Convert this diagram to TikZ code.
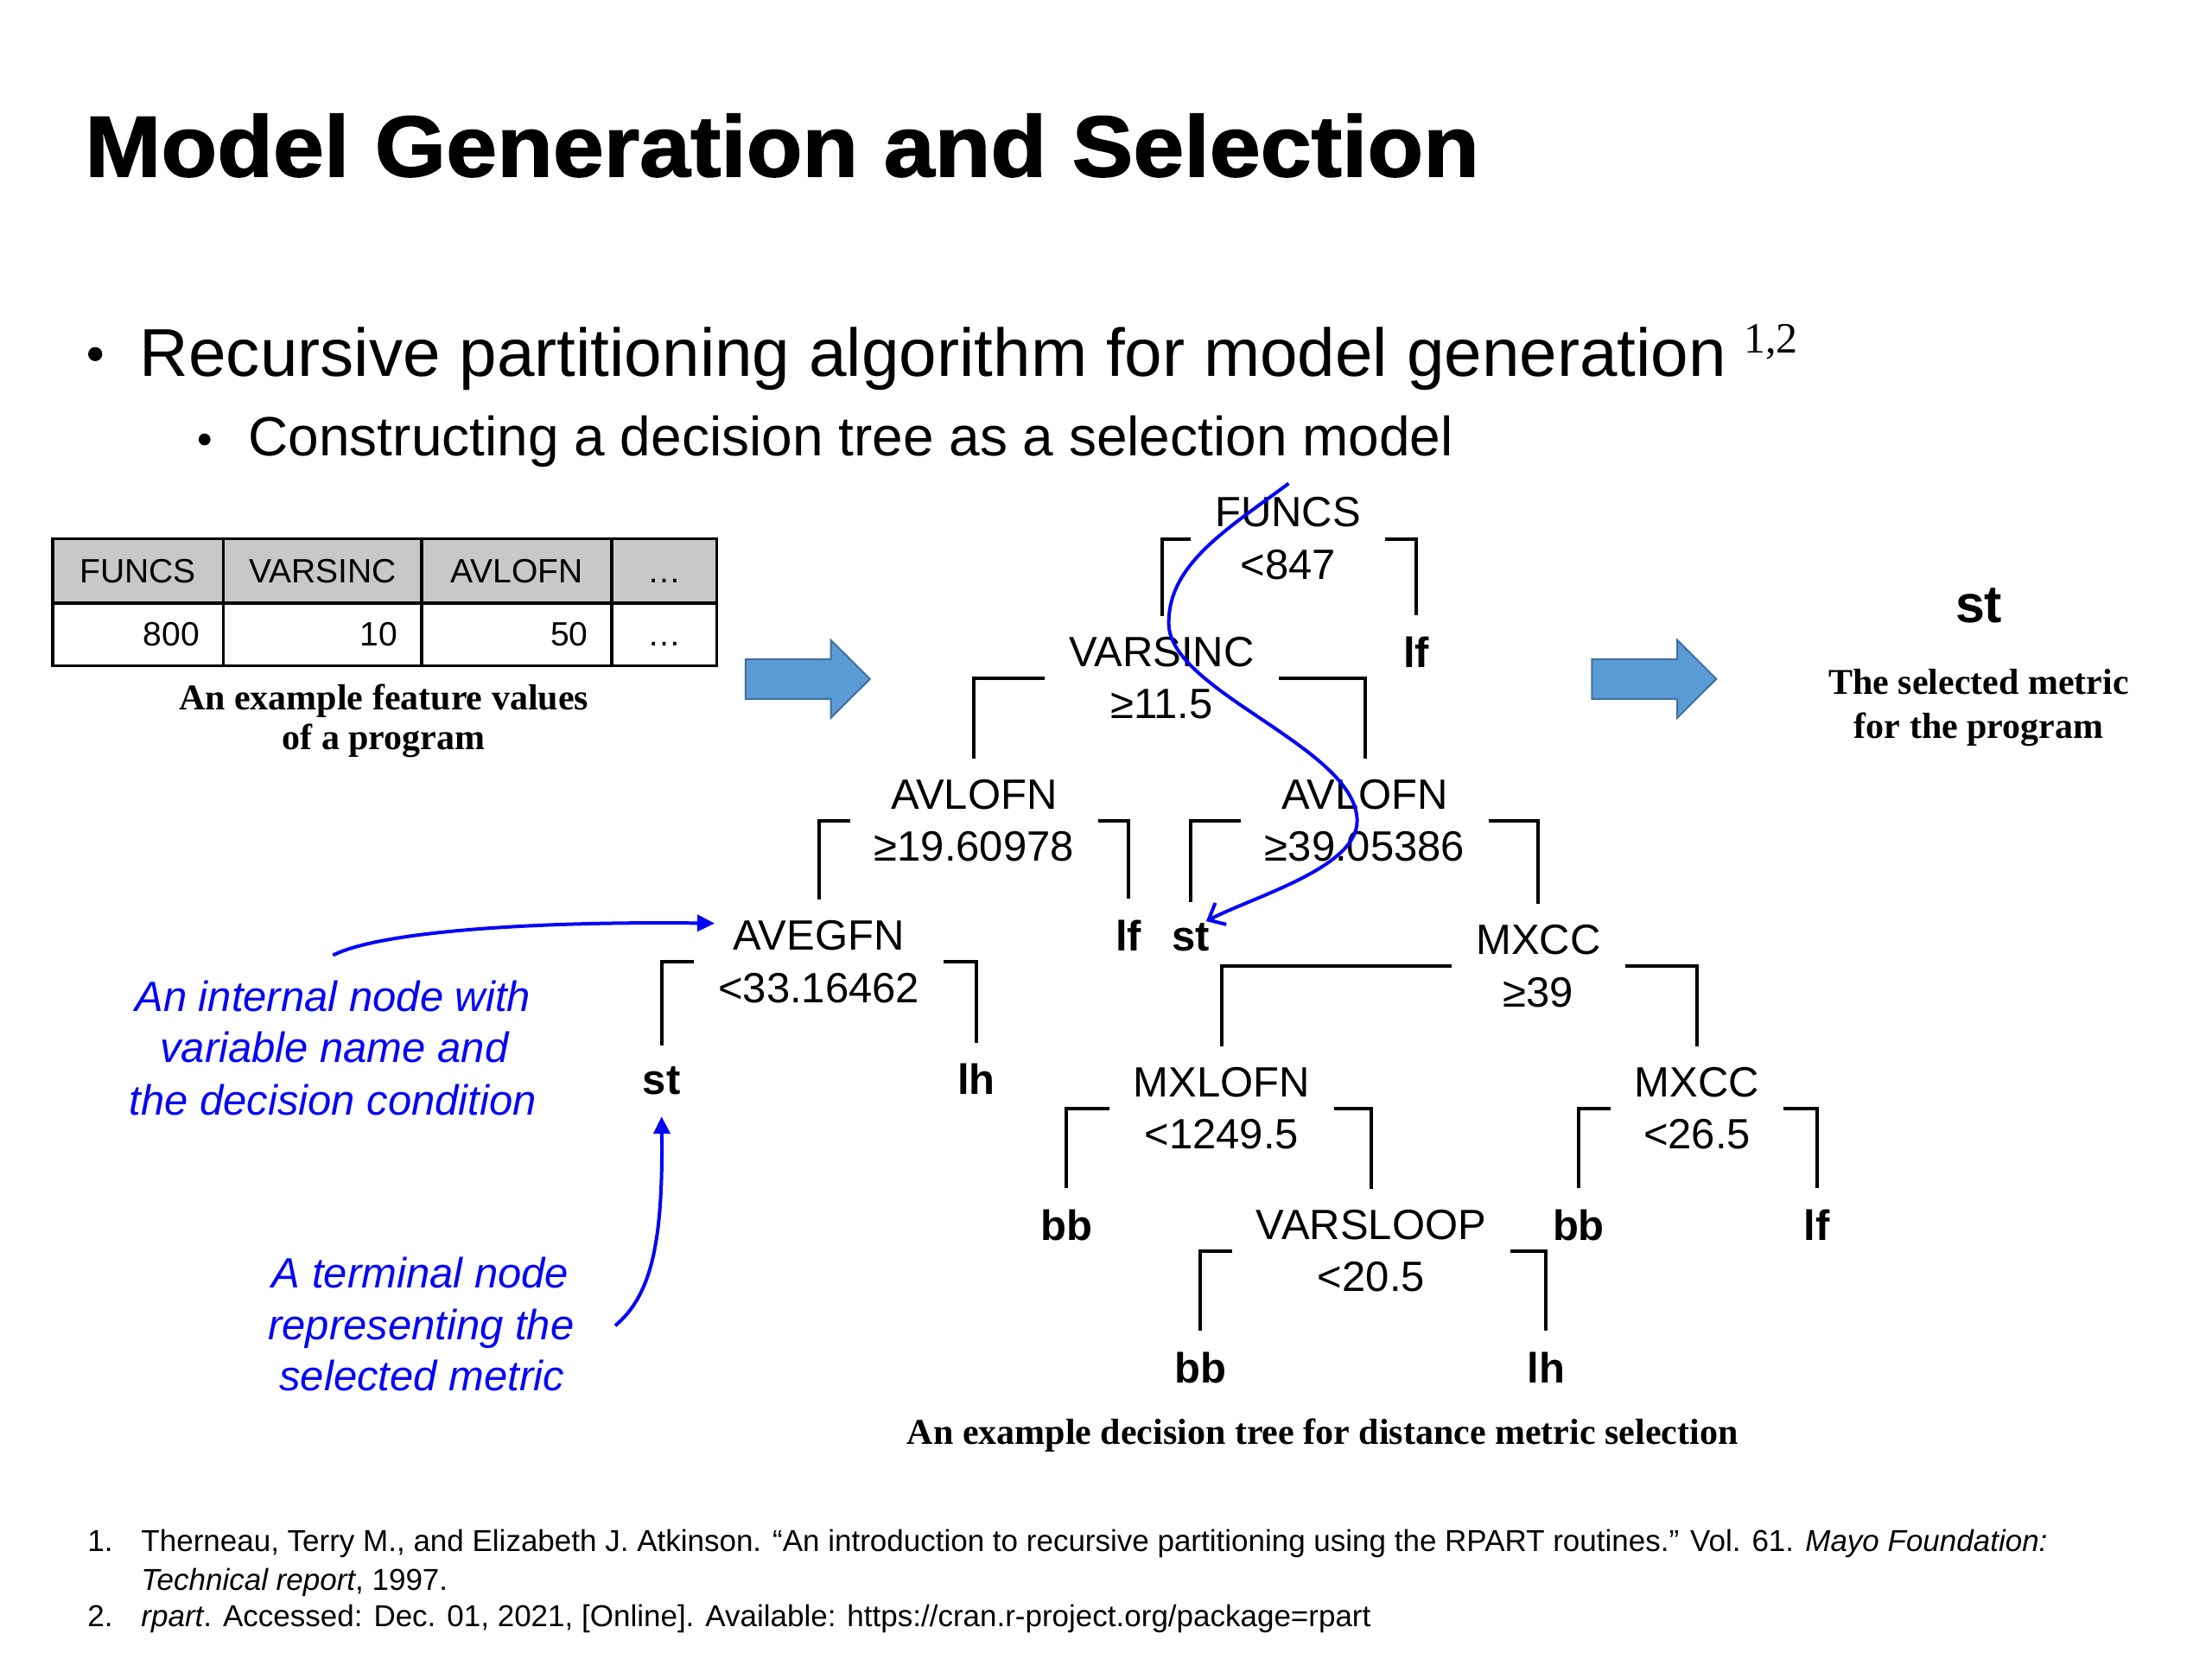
\documentclass[tikz,border=0pt]{standalone}
\usepackage{fontspec}
\setmainfont{Liberation Sans}
\newfontfamily\capserif{Liberation Serif}
\newfontfamily\titlefont[FakeStretch=1.06,FakeBold=1.5]{Liberation Sans}
\usetikzlibrary{arrows.meta,calc}
\definecolor{annblue}{RGB}{5,5,245}
\definecolor{arrfill}{RGB}{91,155,213}
\definecolor{arrline}{RGB}{65,113,156}
\definecolor{hdrgray}{RGB}{200,200,200}
\newcommand{\fsz}[2]{\fontsize{#1}{#2}\selectfont}
\begin{document}
\begin{tikzpicture}[x=1.6327pt,y=-1.6327pt,
  txt/.style={inner sep=0pt},
  titletext/.style={txt,anchor=base west,font=\titlefont\bfseries\fsz{100}{120}},
  bul1/.style={txt,anchor=base west,font=\fsz{78.3}{94}},
  bul2/.style={txt,anchor=base west,font=\fsz{64}{77}},
  bulletdot/.style={circle,fill=black,inner sep=0pt},
  supx/.style={txt,anchor=base west,font=\capserif\fsz{50}{60}},
  cell/.style={txt,anchor=base,font=\fsz{39}{47}},
  cellr/.style={txt,anchor=base east,font=\fsz{39}{47}},
  capt/.style={txt,anchor=base,font=\capserif\bfseries\fsz{42}{50}},
  dec/.style={anchor=north,align=center,inner xsep=27.8pt,inner ysep=24.5pt,font=\fsz{49}{60.4}},
  leaf/.style={anchor=base,inner xsep=0pt,inner ysep=24.5pt,font=\bfseries\fsz{49}{59}},
  br/.style={draw=black,line width=4pt,line join=miter},
  ann/.style={txt,anchor=base,text=annblue,font=\itshape\fsz{49}{59}},
  annline/.style={draw=annblue,line width=4pt},
  blockarrow/.style={fill=arrfill,draw=arrline,line width=2pt,line join=miter},
  fn/.style={txt,anchor=base west,font=\fsz{35}{42}},
  tbl/.style={draw=black,line width=3.5pt},
]
\useasboundingbox (0,0) rectangle (1568,1176);
\fill[white] (0,0) rectangle (1568,1176);

% Title and bullets
\node[titletext] (title) at (60,125) {Model Generation and Selection};
\node[bulletdot,minimum size=16.3pt] (b1) at (67.5,251) {};
\node[bul1] (l1) at (99,267) {Recursive partitioning algorithm for model generation};
\node[supx] (l1s) at (1236,250) {1,2};
\node[bulletdot,minimum size=13.7pt] (b2) at (145,311.5) {};
\node[bul2] (l2) at (176,323) {Constructing a decision tree as a selection model};

% Table
\fill[hdrgray] (37.4,382) rectangle (508,427.6);
\draw[tbl] (37.4,382) rectangle (508,472);
\draw[tbl] (37.4,427.6) -- (508,427.6);
\draw[tbl] (158.4,382) -- (158.4,472);
\draw[tbl] (299,382) -- (299,472);
\draw[tbl] (433.6,382) -- (433.6,472);
\node[cell] (hF) at (97.9,413.4) {FUNCS};
\node[cell] (hV) at (228.7,413.4) {VARSINC};
\node[cell] (hA) at (366.3,413.4) {AVLOFN};
\node[cell] (hD) at (470.8,413.4) {…};
\node[cellr] (vF) at (141.6,458) {800};
\node[cellr] (vV) at (282,458) {10};
\node[cellr] (vA) at (417,458) {50};
\node[cell] (vD) at (470.8,458) {…};
\node[capt] (cap1a) at (272,503) {An example feature values};
\node[capt] (cap1b) at (272,531.5) {of a program};

% Block arrows
\draw[blockarrow] (528.5,467.2) -- (589,467.2) -- (589,453.8) -- (616.7,481.3) -- (589,508.8) -- (589,495.4) -- (528.5,495.4) -- cycle;
\draw[blockarrow] (1128.4,467.2) -- (1189,467.2) -- (1189,453.8) -- (1216.6,481.3) -- (1189,508.8) -- (1189,495.4) -- (1128.4,495.4) -- cycle;

% Result
\node[txt,anchor=base,font=\bfseries\fsz{61}{73}] (res) at (1402.7,441) {st};
\node[capt] (cap3a) at (1402.7,492) {The selected metric};
\node[capt] (cap3b) at (1402.7,523.6) {for the program};

% Decision tree: internal nodes
\node[dec] (F)  at (913,337.5)   {FUNCS\\<847};
\node[dec] (V)  at (823.5,436.5) {VARSINC\\≥11.5};
\node[dec] (A1) at (690.5,537.5) {AVLOFN\\≥19.60978};
\node[dec] (A2) at (967.5,537.5) {AVLOFN\\≥39.05386};
\node[dec] (E)  at (580.5,637.5) {AVEGFN\\<33.16462};
\node[dec] (M1) at (1090.5,640.5) {MXCC\\≥39};
\node[dec] (X)  at (866,741.5)   {MXLOFN\\<1249.5};
\node[dec] (M2) at (1203,741.5)  {MXCC\\<26.5};
\node[dec] (S)  at (972,842.5)   {VARSLOOP\\<20.5};

% leaves
\node[leaf] (lf1) at (1004,473) {lf};
\node[leaf] (lf2) at (800,674) {lf};
\node[leaf] (st1) at (844,674) {st};
\node[leaf] (st2) at (469,776) {st};
\node[leaf] (lh1) at (692,776) {lh};
\node[leaf] (bb1) at (756,879) {bb};
\node[leaf] (bb2) at (1119,879) {bb};
\node[leaf] (lf3) at (1288,879) {lf};
\node[leaf] (bb3) at (851,980) {bb};
\node[leaf] (lh2) at (1096,980) {lh};

% brackets
\foreach \p/\l/\r in {F/V/lf1, V/A1/A2, A1/E/lf2, A2/st1/M1, E/st2/lh1, M1/X/M2, X/bb1/S, M2/bb2/lf3, S/bb3/lh2}{
  \draw[br] ($(\p.north west)+(0,44.5)$) -| (\l.north);
  \draw[br] ($(\p.north east)+(0,44.5)$) -| (\r.north);
}

\node[capt] (cap2) at (937.5,1024) {An example decision tree for distance metric selection};

% Annotations
\node[ann] (ann1a) at (236,717) {An internal node with};
\node[ann] (ann1b) at (237,753) {variable name and};
\node[ann] (ann1c) at (236,790.5) {the decision condition};
\node[ann] (ann2a) at (298,913) {A terminal node};
\node[ann] (ann2b) at (298.5,949.5) {representing the};
\node[ann] (ann2c) at (299,985.7) {selected metric};

\coordinate (a1s) at ($(ann1a.north)+(0,-18)$);
\coordinate (a1e) at ($(E.north west)+(14.5,17)$);
\draw[annline,-{Triangle[length=20pt,width=19pt]}] (a1s) .. controls (270,660) and (380,653) .. (a1e);
\coordinate (a2s) at ($(ann2b.east)+(29,-2)$);
\draw[annline,-{Triangle[length=20pt,width=19pt]}] (a2s) .. controls (462,918) and (470,880) .. (st2.south);

\coordinate (sstart) at (913.5,342.7);
\coordinate (send) at ($(st1.base)+(11,-21)$);
\draw[annline,-{Straight Barb[length=16pt,width=28pt]}] (sstart) .. controls (870,375) and (828,400) .. (828.5,442) .. controls (828.5,490) and (962,530) .. (962,582) .. controls (962,615) and (890,635) .. (send);

% Footnotes
\node[fn] (f1n) at (62,1100) {1.};
\node[fn] (f1a) at (100,1100) {Therneau, Terry M., and Elizabeth J. Atkinson. “An introduction to recursive partitioning using the RPART routines.” Vol. 61. \textit{Mayo Foundation:}};
\node[fn] (f1b) at (100,1127) {\textit{Technical report}, 1997.};
\node[fn] (f2n) at (62,1153) {2.};
\node[fn] (f2a) at (100,1153) {\textit{rpart}. Accessed: Dec. 01, 2021, [Online]. Available: https://cran.r-project.org/package=rpart};
\end{tikzpicture}
\end{document}
